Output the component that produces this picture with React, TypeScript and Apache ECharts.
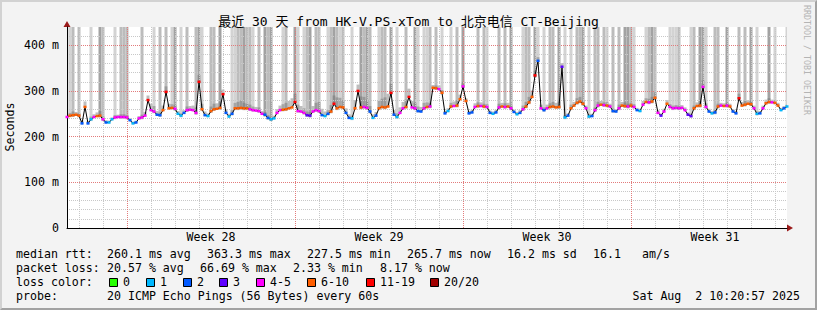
import React, { useEffect, useRef } from 'react';
import * as echarts from 'echarts';

// ---------- text ----------
const TITLE = '最近 30 天 from HK-V.PS-xTom to 北京电信 CT-Beijing';
const Y_NAME = 'Seconds';
const SIDE_TEXT = 'RRDTOOL / TOBI OETIKER';
const WEEK_NAMES = ['Week 28', 'Week 29', 'Week 30', 'Week 31'];
const WEEK_MID_HOURS = [144, 312, 480, 648];

// ---------- axes ----------
const SLOT_HOURS = 3;
const X_MAX_HOURS = 720;
const Y_MAX = 440;
const Y_INTERVAL = 20;

// ---------- data (one slot = 3 hours, 8 slots per day) ----------
const MEDIAN_MS = [
  243, 246, 247, 248, 246, 229, 265, 229,
  238, 243, 245, 246, 238, 231, 231, 238,
  242, 243, 243, 243, 242, 236, 229, 231,
  240, 242, 246, 280, 258, 255, 248, 247,
  258, 298, 262, 263, 261, 250, 246, 252,
  258, 259, 258, 252, 320, 260, 247, 245,
  256, 260, 261, 263, 293, 252, 244, 250,
  262, 262, 263, 262, 262, 260, 258, 257,
  256, 250, 248, 241, 238, 240, 252, 258,
  259, 260, 262, 264, 276, 256, 255, 252,
  247, 246, 255, 258, 256, 247, 245, 250,
  255, 272, 262, 265, 264, 252, 241, 240,
  262, 300, 264, 265, 263, 255, 241, 246,
  262, 265, 264, 266, 296, 248, 243, 252,
  262, 265, 287, 264, 262, 256, 255, 262,
  265, 266, 307, 306, 304, 296, 251, 256,
  266, 267, 268, 282, 310, 278, 251, 253,
  265, 267, 267, 266, 265, 252, 250, 253,
  264, 266, 265, 266, 262, 254, 249, 252,
  260, 266, 275, 287, 334, 366, 262, 258,
  262, 265, 266, 264, 265, 353, 242, 246,
  262, 268, 274, 277, 272, 262, 244, 245,
  258, 268, 270, 269, 268, 266, 256, 255,
  262, 268, 267, 266, 268, 265, 258, 256,
  270, 276, 275, 277, 285, 252, 246, 255,
  272, 265, 262, 263, 262, 263, 258, 248,
  245, 262, 267, 268, 309, 265, 255, 251,
  253, 266, 268, 267, 268, 266, 255, 251,
  284, 268, 270, 272, 271, 262, 250, 251,
  262, 273, 276, 275, 274, 268, 258, 262,
  266,
];

// lost pings out of 20 per slot
const LOSS_COUNT = [
  4, 7, 7, 7, 7, 2, 7, 2,
  1, 4, 7, 7, 4, 2, 1, 1,
  4, 4, 4, 4, 4, 2, 1, 2,
  4, 4, 4, 15, 4, 4, 2, 2,
  7, 15, 7, 7, 4, 1, 1, 2,
  4, 4, 4, 4, 15, 7, 2, 1,
  7, 7, 7, 7, 15, 2, 1, 2,
  7, 7, 7, 7, 7, 4, 4, 4,
  4, 4, 2, 2, 1, 1, 4, 4,
  7, 7, 7, 7, 15, 4, 4, 4,
  3, 3, 4, 4, 4, 2, 1, 2,
  7, 15, 7, 7, 7, 2, 2, 1,
  7, 15, 7, 4, 4, 2, 1, 2,
  7, 7, 7, 7, 15, 2, 1, 4,
  4, 7, 15, 4, 4, 2, 2, 4,
  7, 4, 7, 7, 4, 7, 2, 1,
  7, 4, 7, 7, 4, 7, 2, 2,
  4, 7, 4, 7, 4, 2, 1, 2,
  4, 7, 4, 7, 4, 2, 1, 2,
  4, 7, 7, 7, 15, 2, 4, 2,
  4, 7, 7, 7, 7, 3, 1, 2,
  7, 7, 7, 7, 7, 4, 1, 2,
  4, 4, 7, 4, 7, 4, 2, 2,
  4, 7, 7, 4, 7, 4, 2, 1,
  4, 7, 4, 7, 7, 4, 3, 4,
  7, 4, 4, 4, 4, 4, 4, 3,
  3, 7, 7, 7, 4, 4, 2, 1,
  2, 7, 4, 7, 4, 7, 2, 2,
  15, 7, 7, 7, 7, 4, 1, 2,
  4, 7, 7, 4, 7, 7, 1, 2,
  1,
];

// height of the dense smoke above the median, ms
const SMOKE_SPREAD_MS = [
  5, 6, 8, 6, 5, 6, 12, 5,
  6, 6, 8, 10, 6, 5, 4, 4,
  5, 5, 6, 6, 5, 4, 4, 4,
  5, 6, 8, 10, 14, 12, 8, 6,
  10, 12, 10, 8, 8, 6, 5, 6,
  8, 8, 10, 12, 15, 12, 8, 6,
  10, 12, 12, 14, 10, 8, 6, 8,
  12, 14, 16, 12, 10, 10, 8, 8,
  8, 6, 6, 6, 5, 6, 8, 10,
  12, 14, 16, 20, 18, 14, 12, 10,
  8, 8, 12, 16, 20, 14, 10, 8,
  14, 18, 24, 20, 16, 10, 8, 6,
  18, 14, 24, 22, 18, 12, 8, 8,
  16, 18, 22, 28, 20, 10, 8, 12,
  14, 16, 18, 14, 12, 10, 10, 12,
  10, 8, 6, 6, 8, 6, 5, 6,
  8, 10, 12, 10, 10, 6, 5, 6,
  8, 8, 8, 6, 6, 5, 5, 6,
  8, 8, 8, 8, 6, 5, 5, 6,
  8, 10, 12, 14, 10, 8, 8, 6,
  8, 8, 10, 10, 12, 8, 5, 5,
  8, 8, 10, 10, 8, 6, 5, 5,
  6, 8, 8, 6, 8, 6, 5, 5,
  8, 8, 8, 6, 6, 6, 5, 5,
  8, 8, 8, 10, 12, 6, 5, 6,
  8, 6, 6, 6, 6, 6, 6, 5,
  5, 6, 8, 10, 14, 8, 6, 5,
  5, 6, 6, 6, 6, 6, 5, 5,
  10, 8, 8, 8, 8, 6, 5, 5,
  6, 8, 8, 6, 6, 6, 5, 5,
  4,
];

// slots whose slowest pings go off the top of the graph, with their smoke shade (1 light .. 3 dark)
const TALL_SMOKE_SLOT = [
  0, 1, 2, 4, 8, 11, 12, 16, 18, 19, 20, 25, 29, 31, 33, 35, 36, 38, 40, 43,
  44, 45, 48, 49, 51, 55, 56, 57, 58, 59, 60, 61, 62, 64, 66, 67, 68, 72, 73, 76,
  77, 79, 80, 81, 83, 84, 87, 88, 89, 90, 91, 92, 95, 98, 99, 100, 101, 104, 105, 106,
  108, 110, 113, 116, 117, 119, 120, 121, 123, 125, 128, 130, 132, 137, 139, 140, 144, 146, 148, 152,
  153, 154, 156, 157, 159, 161, 162, 164, 166, 168, 170, 171, 172, 174, 176, 177, 179, 180, 182, 184,
  186, 187, 188, 189, 193, 194, 195, 196, 201, 202, 203, 204, 208, 209, 211, 212, 213, 216, 217, 220,
  224, 226, 228, 230, 234, 236, 240,
];
const TALL_SMOKE_SHADE = [
  1, 1, 2, 2, 1, 3, 2, 1, 2, 2, 2, 2, 1, 2, 2, 1, 3, 1, 2, 2,
  3, 1, 2, 2, 3, 1, 1, 2, 2, 3, 2, 2, 1, 2, 3, 2, 3, 1, 2, 3,
  1, 1, 2, 3, 2, 2, 1, 2, 3, 2, 1, 2, 1, 3, 2, 3, 2, 1, 2, 2,
  3, 1, 2, 3, 1, 1, 1, 2, 2, 1, 1, 2, 3, 2, 2, 1, 2, 2, 3, 1,
  2, 2, 3, 1, 1, 2, 2, 3, 1, 1, 2, 2, 3, 1, 2, 2, 2, 1, 2, 2,
  3, 3, 2, 1, 1, 2, 3, 2, 1, 1, 1, 2, 1, 2, 3, 3, 1, 2, 2, 3,
  2, 2, 3, 1, 3, 1, 1,
];

// ---------- legend ----------
const LOSS_LABELS = ['0', '1', '2', '3', '4-5', '6-10', '11-19', '20/20'];
const LOSS_COLORS = ['#26ff00', '#00b8ff', '#0059ff', '#5e00ff', '#ff00ff', '#ff5e00', '#ff0000', '#a10000'];
const RTT_STATS = ['median rtt:', '260.1 ms avg', '363.3 ms max', '227.5 ms min', '265.7 ms now', '16.2 ms sd', '16.1', 'am/s'];
const LOSS_STATS = ['packet loss:', '20.57 % avg', '66.69 % max', '2.33 % min', '8.17 % now'];
const LOSS_COLOR_HEAD = 'loss color:';
const PROBE_TEXT = ['probe:', '20 ICMP Echo Pings (56 Bytes) every 60s'];
const STAMP = 'Sat Aug  2 10:20:57 2025';

// ---------- style ----------
const MONO = "'DejaVu Sans Mono', 'Noto Sans CJK SC', monospace";
const FS = 11.6;
const GRID = { left: 67, right: 30, top: 27, bottom: 82 };
const SMOKE_SHADES = ['transparent', '#d3d3d3', '#bcbcbc', '#a2a2a2'];
const MINOR = '#c8c8c8';
const MAJOR = '#e27b7b';

function lossBucket(n: number): number {
  if (n <= 3) return n;
  if (n <= 5) return 4;
  if (n <= 10) return 5;
  if (n <= 19) return 6;
  return 7;
}

export default function App() {
  const ref = useRef<HTMLDivElement>(null);
  useEffect(() => {
    if (!ref.current) return;
    const chart = echarts.init(ref.current, undefined, { renderer: 'svg' });

    const medianData = MEDIAN_MS.map((m, i) => [i * SLOT_HOURS, m]);
    const bandData = MEDIAN_MS.map((m, i) => [i * SLOT_HOURS, m, m + SMOKE_SPREAD_MS[i]]);
    const tallData = TALL_SMOKE_SLOT.map((s, k) => [s * SLOT_HOURS, MEDIAN_MS[s], Y_MAX, TALL_SMOKE_SHADE[k]]);
    const lossData = MEDIAN_MS.map((m, i) => [i * SLOT_HOURS, m, lossBucket(LOSS_COUNT[i])]);

    const xSplitColors = Array.from({ length: 14 }, (_, k) => (k === 5 ? MAJOR : k % 2 === 1 ? MINOR : 'rgba(0,0,0,0)'));
    const ySplitColors = [MAJOR, MINOR, MINOR, MINOR, MINOR];

    const plotBottom = 310 - GRID.bottom;
    const plotRight = 817 - GRID.right;

    const texts: any[] = [];
    const addText = (x: number, y: number, t: string, extra: any = {}) =>
      texts.push({
        type: 'text', x, y, silent: true,
        style: { text: t, fill: '#000', font: `${FS}px ${MONO}`, textVerticalAlign: 'middle', textAlign: 'left', ...extra },
      });
    const rttX = [16, 107, 207, 307, 407, 507, 593, 642];
    RTT_STATS.forEach((t, i) => addText(rttX[i], 254, t));
    const lossX = [16, 107, 200, 293, 380];
    LOSS_STATS.forEach((t, i) => addText(lossX[i], 268, t));
    addText(16, 282, LOSS_COLOR_HEAD);
    const boxX = [109, 146, 183, 219, 256, 307, 366, 430];
    LOSS_LABELS.forEach((t, i) => {
      texts.push({
        type: 'rect', silent: true,
        shape: { x: boxX[i] + 0.5, y: 278.5, width: 8, height: 8 },
        style: { fill: LOSS_COLORS[i], stroke: '#000', lineWidth: 1 },
      });
      addText(boxX[i] + 14, 282, t);
    });
    addText(16, 296, PROBE_TEXT[0]);
    addText(107, 296, PROBE_TEXT[1]);
    addText(800, 296, STAMP, { textAlign: 'right' });
    addText(408.5, 21, TITLE, { font: `13px ${MONO}`, textAlign: 'center' });
    texts.push({
      type: 'text', x: 10, y: 127, rotation: Math.PI / 2, silent: true,
      style: { text: Y_NAME, fill: '#000', font: `${FS}px ${MONO}`, textAlign: 'center', textVerticalAlign: 'middle' },
    });
    texts.push({
      type: 'text', x: 807, y: 60, rotation: -Math.PI / 2, silent: true,
      style: { text: SIDE_TEXT, fill: '#b4b4b4', font: `8.3px ${MONO}`, textAlign: 'center', textVerticalAlign: 'middle' },
    });
    // axis arrows
    texts.push({
      type: 'polygon', silent: true,
      shape: { points: [[GRID.left - 3.5, GRID.top], [GRID.left + 3.5, GRID.top], [GRID.left, GRID.top - 6]] },
      style: { fill: '#9a1a1a' },
    });
    texts.push({
      type: 'polygon', silent: true,
      shape: { points: [[plotRight, plotBottom - 3.5], [plotRight, plotBottom + 3.5], [plotRight + 6, plotBottom]] },
      style: { fill: '#9a1a1a' },
    });

    const option: any = {
      animation: false,
      backgroundColor: '#f3f3f3',
      grid: { ...GRID, show: true, backgroundColor: '#ffffff', borderWidth: 0, z: -2 },
      xAxis: {
        type: 'value', min: 0, max: X_MAX_HOURS, interval: 12,
        axisLine: { show: true, lineStyle: { color: '#000', width: 1 } },
        axisTick: { show: false },
        axisLabel: {
          margin: 3, color: '#000', fontFamily: MONO, fontSize: FS,
          formatter: (v: number) => {
            const k = WEEK_MID_HOURS.indexOf(v);
            return k >= 0 ? WEEK_NAMES[k] : '';
          },
        },
        splitLine: { show: true, lineStyle: { color: xSplitColors, type: [1, 1], width: 1 } },
      },
      yAxis: {
        type: 'value', min: 0, max: Y_MAX, interval: Y_INTERVAL,
        axisLine: { show: true, lineStyle: { color: '#000', width: 1 } },
        axisTick: { show: false },
        axisLabel: {
          margin: 8, color: '#000', fontFamily: MONO, fontSize: FS,
          formatter: (v: number) => (v % 100 === 0 ? (v === 0 ? '0' : `${v} m`) : ''),
        },
        splitLine: { show: true, showMaxLine: false, lineStyle: { color: ySplitColors, type: [1, 1], width: 1 } },
      },
      graphic: texts,
      series: [
        {
          type: 'custom', name: 'tall smoke', z: -1, clip: true, silent: true,
          encode: { x: 0, y: [1, 2] },
          data: tallData,
          renderItem: (_p: any, api: any) => {
            const x = api.value(0);
            const a = api.coord([x - 1.5, api.value(2)]);
            const b = api.coord([x + 1.5, api.value(1) - 4]);
            return {
              type: 'rect',
              shape: { x: a[0], y: a[1], width: b[0] - a[0], height: b[1] - a[1] },
              style: { fill: SMOKE_SHADES[api.value(3)] },
            };
          },
        },
        {
          type: 'custom', name: 'smoke', z: -1, clip: true, silent: true,
          encode: { x: 0, y: [1, 2] },
          data: bandData,
          renderItem: (_p: any, api: any) => {
            const x = api.value(0);
            const a = api.coord([x - 1.5, api.value(2)]);
            const b = api.coord([x + 1.5, api.value(1) - 2]);
            return {
              type: 'rect',
              shape: { x: a[0], y: a[1], width: b[0] - a[0], height: b[1] - a[1] },
              style: { fill: 'rgba(110,110,110,0.45)' },
            };
          },
        },
        {
          type: 'line', name: 'median', z: 3, silent: true,
          data: medianData, showSymbol: false,
          lineStyle: { color: '#000', width: 1 },
        },
        {
          type: 'custom', name: 'loss', z: 4, silent: true,
          encode: { x: 0, y: 1 },
          data: lossData,
          renderItem: (_p: any, api: any) => {
            const x = api.value(0);
            const m = api.value(1);
            const a = api.coord([x - 1.5, m]);
            const b = api.coord([x + 1.5, m]);
            return {
              type: 'line',
              shape: { x1: a[0], y1: a[1], x2: b[0], y2: b[1] },
              style: { stroke: LOSS_COLORS[api.value(2)], lineWidth: 2.5 },
            };
          },
        },
      ],
    };
    chart.setOption(option);
    return () => chart.dispose();
  }, []);

  return (
    <div style={{ position: 'fixed', left: 0, top: 0, width: 817, height: 310 }}>
      <div ref={ref} style={{ position: 'absolute', left: 0, top: 0, width: 817, height: 310 }} />
      <div
        style={{
          position: 'absolute', left: 0, top: 0, width: 817, height: 310, boxSizing: 'border-box',
          borderStyle: 'solid', borderWidth: 2, borderColor: '#d2d2d2 #a2a2a2 #a2a2a2 #d2d2d2', pointerEvents: 'none',
        }}
      />
    </div>
  );
}
